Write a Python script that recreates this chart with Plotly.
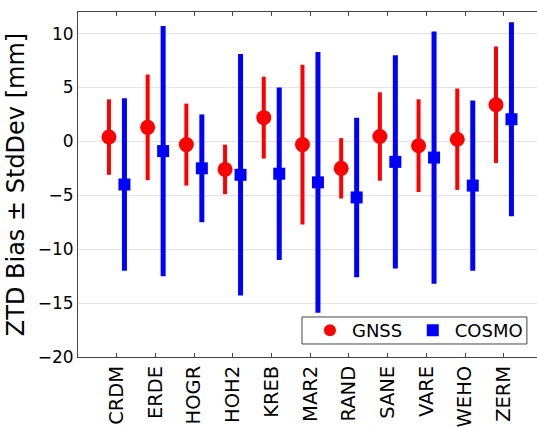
import plotly.graph_objects as go

stations = ["CRDM", "ERDE", "HOGR", "HOH2", "KREB", "MAR2", "RAND", "SANE", "VARE", "WEHO", "ZERM"]
gnss_bias = [0.4, 1.3, -0.3, -2.6, 2.2, -0.3, -2.5, 0.45, -0.4, 0.2, 3.4]
gnss_std = [3.5, 4.9, 3.8, 2.3, 3.8, 7.4, 2.8, 4.1, 4.3, 4.7, 5.4]
cosmo_bias = [-4.0, -0.9, -2.5, -3.1, -3.0, -3.8, -5.2, -1.9, -1.5, -4.1, 2.05]
cosmo_std = [8.0, 11.6, 5.0, 11.2, 8.0, 12.1, 7.4, 9.9, 11.7, 7.9, 9.0]
y_ticks = [-20, -15, -10, -5, 0, 5, 10]

pos = list(range(1, len(stations) + 1))
off = 0.2

fig = go.Figure()
fig.add_trace(go.Scatter(
    x=[p - off for p in pos], y=gnss_bias, mode="markers", name="GNSS", legend="legend",
    marker=dict(symbol="circle", size=15, color="#ff0000"),
    error_y=dict(type="data", array=gnss_std, symmetric=True, thickness=4, width=0, color="#ff0000"),
))
fig.add_trace(go.Scatter(
    x=[p + off for p in pos], y=cosmo_bias, mode="markers", name="COSMO", legend="legend2",
    marker=dict(symbol="square", size=12, color="#0000ff"),
    error_y=dict(type="data", array=cosmo_std, symmetric=True, thickness=5, width=0, color="#0000ff"),
))

font = "DejaVu Sans"
leg_common = dict(
    orientation="h", yanchor="middle", y=0.077, xanchor="left",
    bgcolor="rgba(0,0,0,0)", borderwidth=0,
    font=dict(family=font, size=18), itemsizing="constant", itemwidth=34,
)
fig.update_layout(
    width=537, height=427,
    margin=dict(l=78, r=0, t=12, b=70),
    paper_bgcolor="white", plot_bgcolor="white",
    font=dict(family=font, size=17, color="black"),
    showlegend=True,
    legend=dict(x=0.501, **leg_common),
    legend2=dict(x=0.725, **leg_common),
    shapes=[dict(type="rect", xref="paper", yref="paper", x0=0.488, x1=0.978, y0=0.0377, y1=0.116,
                 line=dict(color="#444444", width=1), fillcolor="white", layer="above")],
    xaxis=dict(
        range=[0, 11.86], tickvals=pos, ticktext=stations, tickangle=-90,
        showgrid=False, zeroline=False, showline=True, linecolor="#444444", linewidth=1,
        mirror="allticks", ticks="inside", ticklen=4, tickcolor="#444444",
        tickfont=dict(family=font, size=19.5),
    ),
    yaxis=dict(
        range=[-20, 12], tickvals=y_ticks, showgrid=True, gridcolor="#e3e3e3", gridwidth=1,
        zeroline=False, showline=True, linecolor="#444444", linewidth=1, ticks="",
        tickfont=dict(family=font, size=17),
        title=dict(text="ZTD Bias ± StdDev [mm]", font=dict(family=font, size=24), standoff=6),
    ),
)
fig.write_html("out.html")
